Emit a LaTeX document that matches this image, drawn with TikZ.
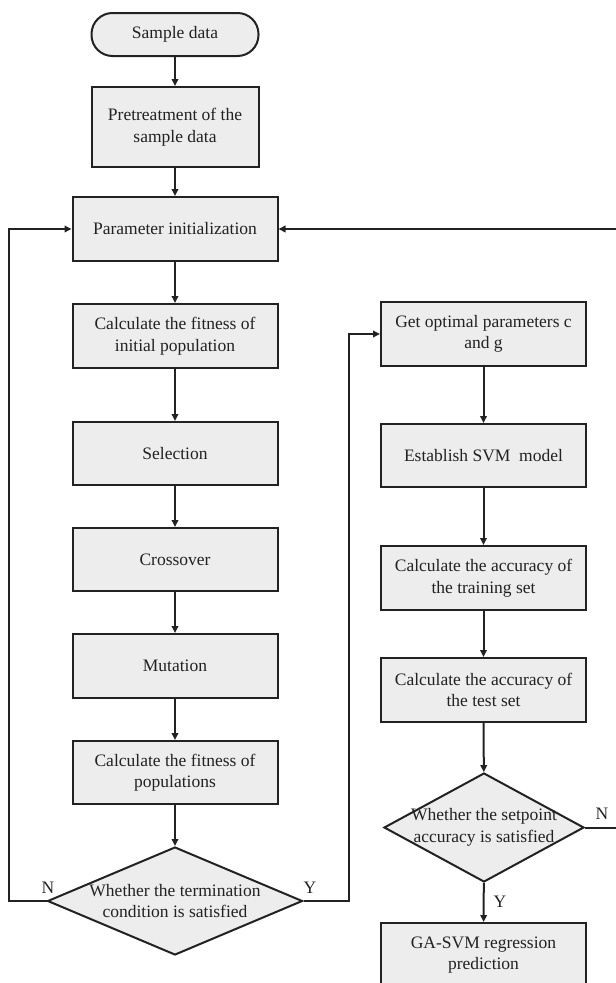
\documentclass[tikz,border=0pt]{standalone}
\usepackage{fontspec}
\setmainfont{Liberation Serif}
\usetikzlibrary{arrows.meta,shapes.geometric,positioning}
\definecolor{boxfill}{HTML}{EDEDED}
\definecolor{ink}{HTML}{222222}
\tikzset{
  boxnode/.style={draw=ink, fill=boxfill, line width=2pt, minimum width=205pt, minimum height=64pt, inner sep=0pt, align=center, font=\fontsize{17.5}{21.5}\selectfont, text=ink},
  termnode/.style={draw=ink, fill=boxfill, line width=2pt, rounded corners=21pt, minimum width=167pt, minimum height=43pt, inner sep=0pt, font=\fontsize{17.5}{21.5}\selectfont, text=ink},
  decnode/.style={draw=ink, fill=boxfill, line width=2pt, diamond, inner sep=0pt},
  dectext/.style={align=center, font=\fontsize{17.5}{21.5}\selectfont, text=ink, inner sep=0pt},
  lab/.style={font=\fontsize{17.5}{19}\selectfont, text=ink, inner sep=0pt},
  conn/.style={draw=ink, line width=2pt, -{Triangle[length=7pt,width=6.5pt]}},
}
\begin{document}
\begin{tikzpicture}[x=1pt,y=-1pt]
\path[use as bounding box] (0,0) rectangle (616,983);
\clip (0,0) rectangle (616,983);
\node[termnode] (start) at (175,34.5) {Sample data};
\node[boxnode, minimum width=167pt, minimum height=80pt] (pre) at (175,127) {Pretreatment of the\\sample data};
\node[boxnode] (init) at (175,229) {Parameter initialization};
\node[boxnode] (fit0) at (175,336) {Calculate the fitness of\\initial population};
\node[boxnode, minimum height=63pt] (sel) at (175,453.5) {Selection};
\node[boxnode, minimum height=63pt] (cross) at (175,559.5) {Crossover};
\node[boxnode] (mut) at (175,666) {Mutation};
\node[boxnode, minimum height=63pt] (fit) at (175,772.5) {Calculate the fitness of\\populations};
\node[decnode, minimum width=255pt, minimum height=108pt] (d1) at (175,901) {};
\node[dectext] (d1t) at (175,901) {Whether the termination\\condition is satisfied};

\node[boxnode] (opt) at (483.5,334) {Get optimal parameters c\\and g};
\node[boxnode, minimum height=63pt] (svm) at (483.5,455.5) {Establish SVM\ \ model};
\node[boxnode] (train) at (483.5,578) {Calculate the accuracy of\\the training set};
\node[boxnode] (test) at (483.5,690) {Calculate the accuracy of\\the test set};
\node[decnode, minimum width=200pt, minimum height=109pt] (d2) at (484,827.5) {};
\node[dectext] (d2t) at (484,827.5) {Whether the setpoint\\accuracy is satisfied};
\node[boxnode] (ga) at (483.5,955) {GA-SVM regression\\prediction};

\coordinate (lft) at (9,901);
\coordinate (mid) at (349,901);
\coordinate (rgt) at (630,827.5);

\draw[conn] (start) -- (pre);
\draw[conn] (pre) -- (init);
\draw[conn] (init) -- (fit0);
\draw[conn] (fit0) -- (sel);
\draw[conn] (sel) -- (cross);
\draw[conn] (cross) -- (mut);
\draw[conn] (mut) -- (fit);
\draw[conn] (fit) -- (d1);
\draw[conn] (d1.west) -- (lft) |- (init.west);
\draw[conn] (d1.east) -- (mid) |- (opt.west);
\draw[conn] (opt) -- (svm);
\draw[conn] (svm) -- (train);
\draw[conn] (train) -- (test);
\draw[conn] (test) -- (d2);
\draw[conn] (d2) -- (ga);
\draw[conn] (d2.east) -- (rgt) |- (init.east);

\node[lab] (n1) at (48,888) {N};
\node[lab] (y1) at (310,888) {Y};
\node[lab] (n2) at (602,814) {N};
\node[lab] (y2) at (500,902) {Y};
\end{tikzpicture}
\end{document}
